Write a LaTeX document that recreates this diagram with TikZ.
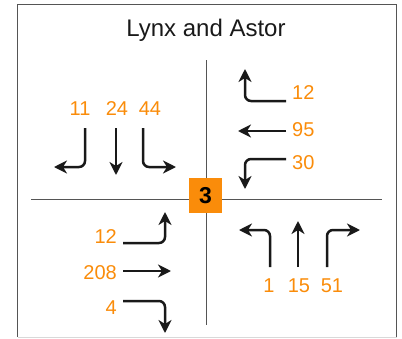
\documentclass[tikz,border=0pt]{standalone}
\usepackage{fontspec}
\setmainfont{Liberation Sans}
\usetikzlibrary{arrows.meta}
\definecolor{turnorange}{RGB}{250,140,10}
\definecolor{framegray}{RGB}{85,85,85}
\begin{document}
\begin{tikzpicture}[x=1pt,y=-1pt,
  count/.style={text=turnorange,font=\fontsize{20}{23}\selectfont,inner sep=0pt},
  mv/.style={line width=2.5pt,draw=black!90,rounded corners=6pt,
    -{Stealth[length=13pt,width=13pt,inset=4pt]}},
  road/.style={line width=1.4pt,draw=framegray}]
\useasboundingbox (0,0) rectangle (402,338);
% outer frame
\draw[line width=1.6pt,draw=framegray] (17.5,337) -- (17.5,4.5) -- (396.5,4.5) -- (396.5,337);
\draw[line width=1pt,draw=black!15] (17.5,337.5) -- (396.5,337.5);
\node[font=\fontsize{24}{28}\selectfont,text=black!90] (title) at (206,30) {Lynx and Astor};
% crossing roads
\draw[road] (31,199.5) -- (382,199.5);
\draw[road] (206.5,60) -- (206.5,325);
\node[fill=turnorange,minimum width=33pt,minimum height=35pt,inner sep=0pt,
  font=\fontsize{23}{27}\selectfont\bfseries] (id) at (205.5,195.5) {3};
% southbound movements
\node[count] (s1) at (80,109) {11};
\node[count] (s2) at (117,109) {24};
\node[count] (s3) at (150,109) {44};
\draw[mv] (85,128) -- (85,167) -- (54,167);
\draw[mv] (116,128) -- (116,175);
\draw[mv] (143,128) -- (143,167) -- (176,167);
% westbound movements
\node[count,anchor=west] (w1) at (292,93) {12};
\node[count,anchor=west] (w2) at (292,130) {95};
\node[count,anchor=west] (w3) at (292,163) {30};
\draw[mv] (286,101) -- (245,101) -- (245,69);
\draw[mv] (286,131) -- (238,131);
\draw[mv] (286,159) -- (245,159) -- (245,189);
% eastbound movements
\node[count,anchor=east] (e1) at (117,237) {12};
\node[count,anchor=east] (e2) at (117,273) {208};
\node[count,anchor=east] (e3) at (117,308) {4};
\draw[mv] (123,243) -- (165,243) -- (165,212);
\draw[mv] (123,271) -- (171,271);
\draw[mv] (123,301) -- (165,301) -- (165,333);
% northbound movements
\node[count] (n1) at (269,286) {1};
\node[count] (n2) at (299,286) {15};
\node[count] (n3) at (332,286) {51};
\draw[mv] (270,267) -- (270,230) -- (239,230);
\draw[mv] (298,267) -- (298,221);
\draw[mv] (327,267) -- (327,230) -- (360,230);
\end{tikzpicture}
\end{document}
